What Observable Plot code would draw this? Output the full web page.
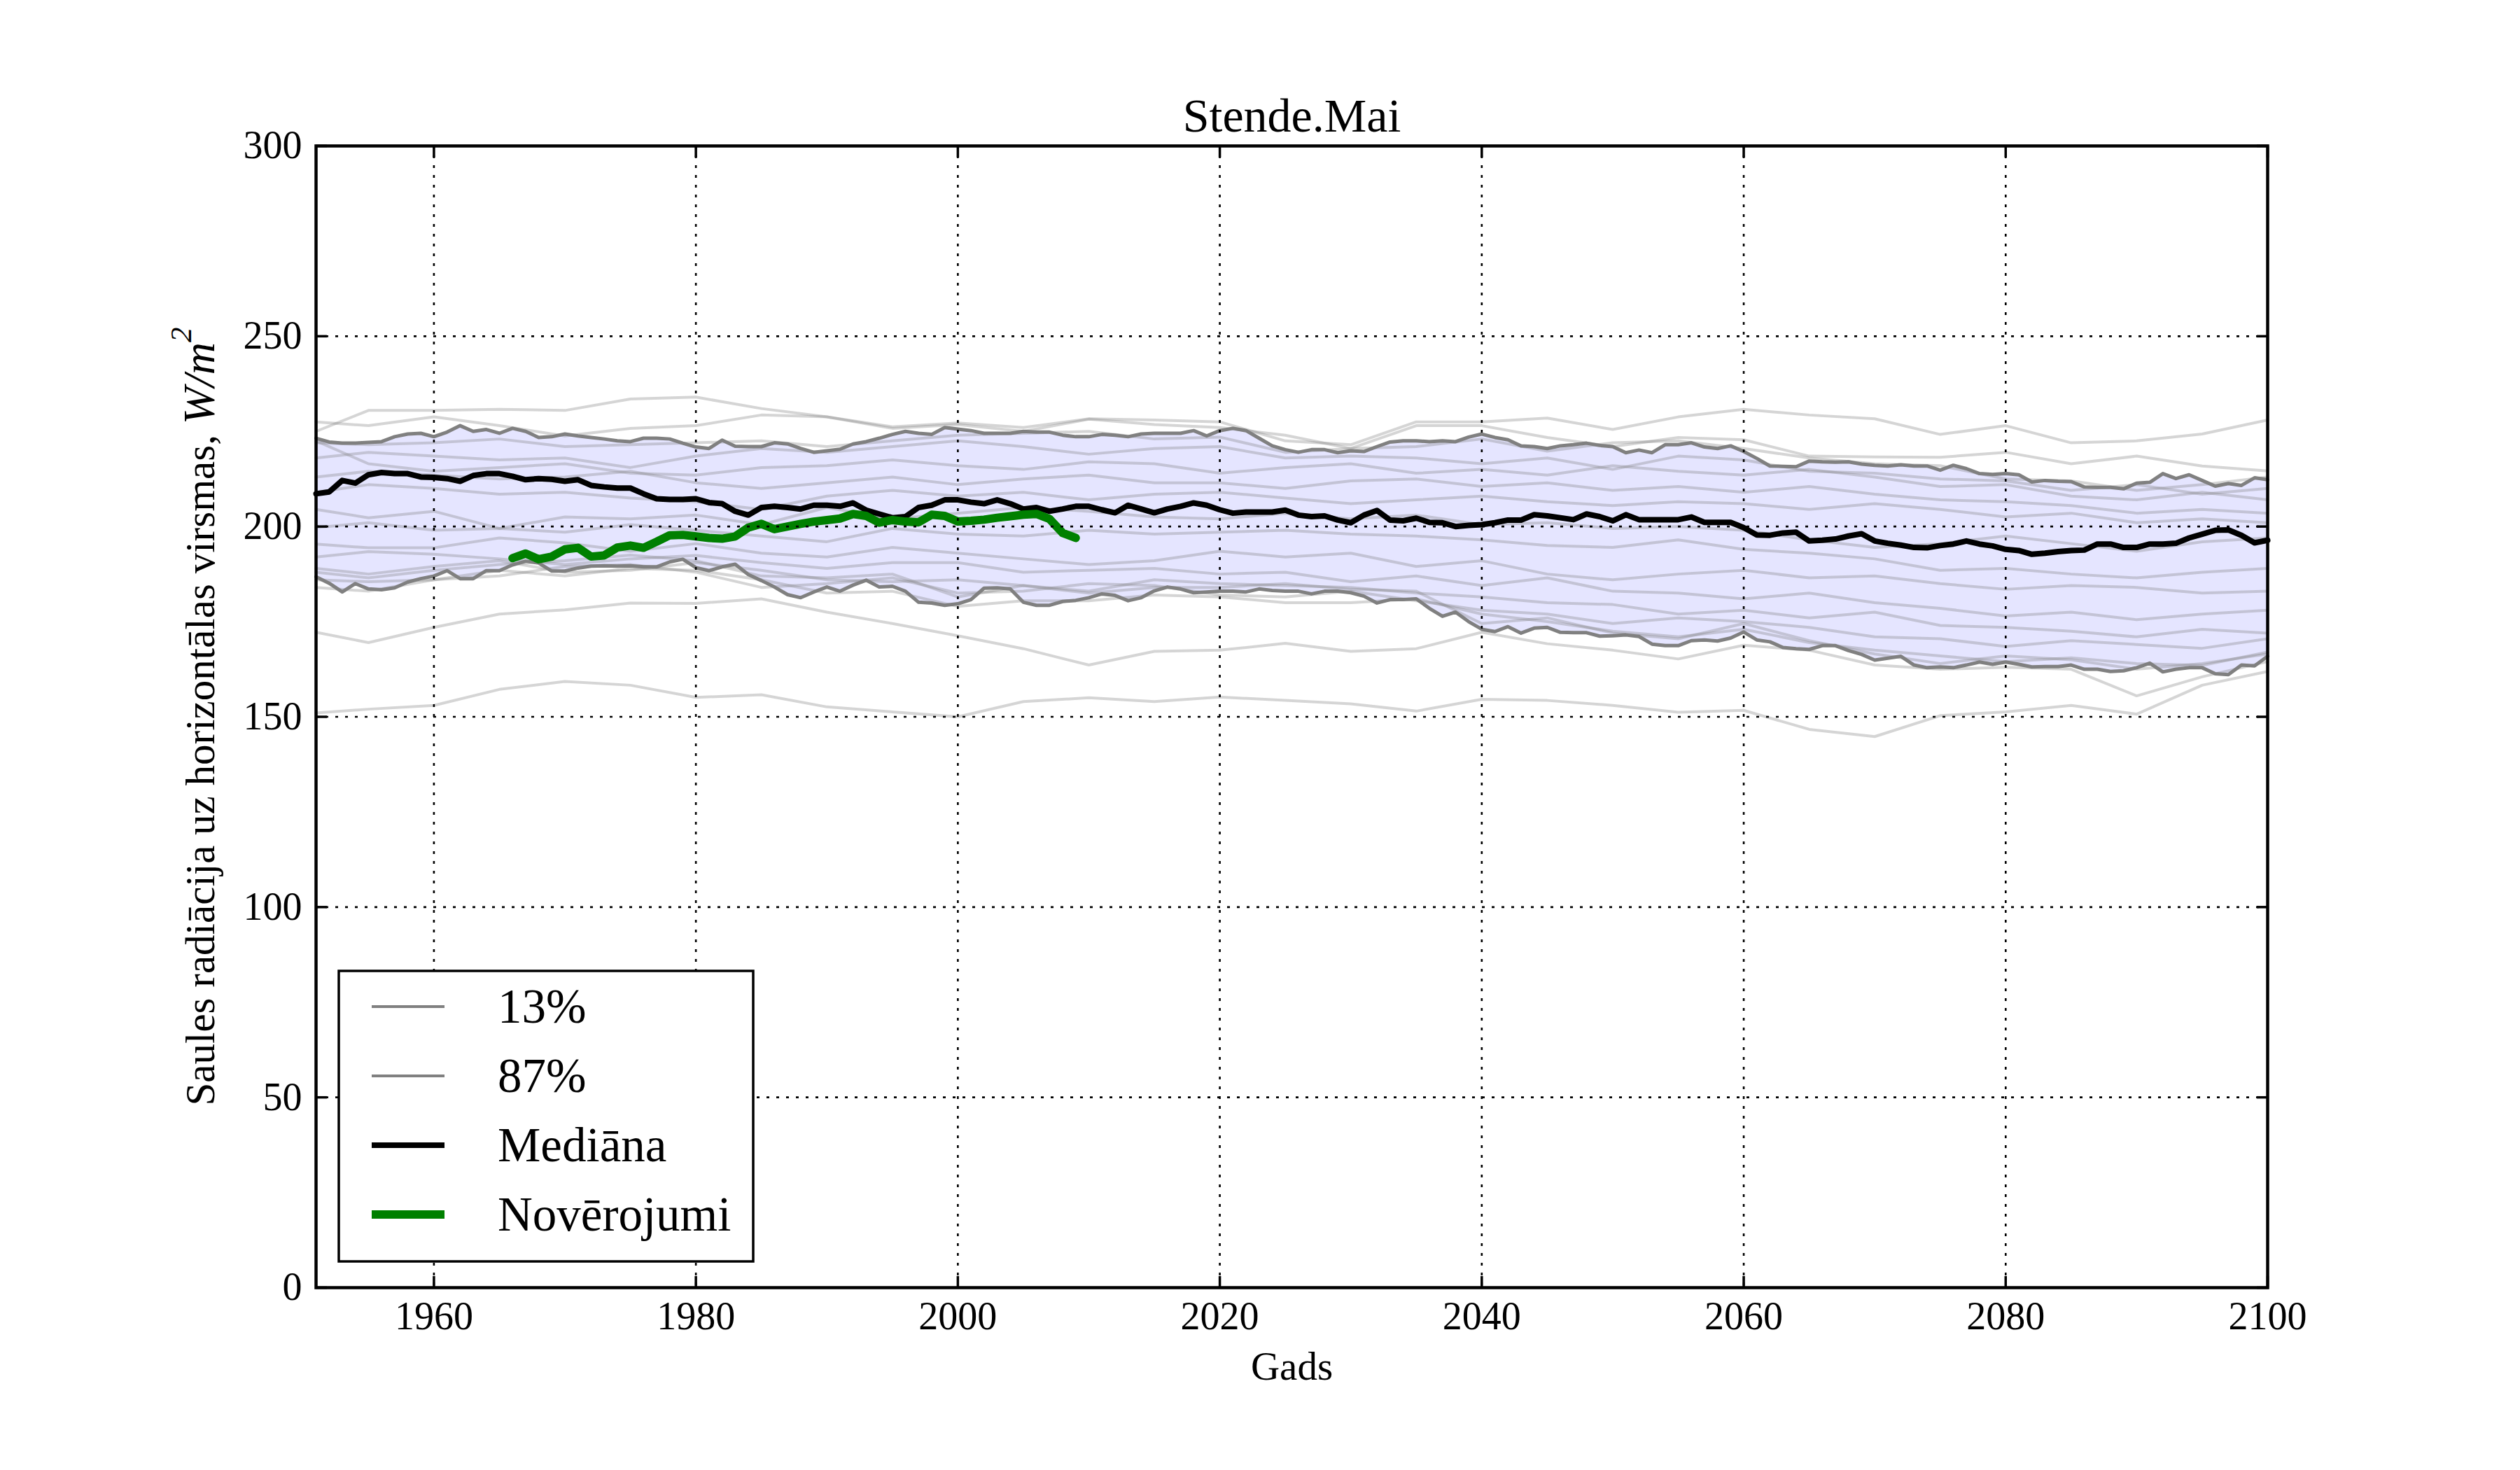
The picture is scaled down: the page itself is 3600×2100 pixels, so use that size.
<!DOCTYPE html>
<html>
<head>
<meta charset="utf-8">
<script src="https://cdn.jsdelivr.net/npm/d3@7"></script>
<script src="https://cdn.jsdelivr.net/npm/@observablehq/plot@0.6"></script>
<style>
  html, body { margin: 0; padding: 0; background: #fff; }
  #chart { width: 3600px; height: 2100px; }
</style>
</head>
<body>
<div id="chart"></div>
<script>
// ---------------- DATA ----------------
const title = "Stende.Mai";
const xLabel = "Gads";
const yLabelText = "Saules radiācija uz horizontālas virsmas, ";
const yLabelMath = "W/m";
const yLabelSup = "2";
const xTicks = [1960, 1980, 2000, 2020, 2040, 2060, 2080, 2100];
const yTicks = [0, 50, 100, 150, 200, 250, 300];
const legendLabels = ["13%", "87%", "Mediāna", "Novērojumi"];

const firstYear = 1951;
const median = [
  208.6, 209.1, 212.1, 211.4, 213.6, 214.2, 213.9, 213.9, 213.0, 212.9,
  212.6, 211.9, 213.4, 213.9, 213.9, 213.2, 212.3, 212.6, 212.4, 211.9,
  212.3, 210.8, 210.4, 210.1, 210.1, 208.6, 207.3, 207.1, 207.1, 207.3,
  206.3, 206.0, 204.0, 203.0, 205.0, 205.3, 205.0, 204.6, 205.6, 205.6,
  205.3, 206.2, 204.3, 203.3, 202.3, 202.6, 205.0, 205.6, 207.0, 207.0,
  206.4, 206.0, 207.0, 206.0, 204.6, 205.0, 204.0, 204.6, 205.3, 205.3,
  204.4, 203.6, 205.6, 204.6, 203.6, 204.6, 205.3, 206.2, 205.6, 204.4,
  203.5, 203.8, 203.8, 203.8, 204.3, 203.0, 202.6, 202.8, 201.7, 201.0,
  203.0, 204.2, 201.7, 201.5, 202.2, 201.1, 201.0, 200.0, 200.3, 200.5,
  201.0, 201.7, 201.7, 203.1, 202.8, 202.3, 201.8, 203.3, 202.6, 201.5,
  203.1, 201.8, 201.8, 201.8, 201.8, 202.5, 201.1, 201.1, 201.1, 199.7,
  197.8, 197.7, 198.3, 198.5, 196.2, 196.4, 196.7, 197.5, 198.1, 196.2,
  195.6, 195.1, 194.5, 194.4, 195.0, 195.4, 196.2, 195.4, 194.9, 194.0,
  193.7, 192.7, 193.0, 193.4, 193.7, 193.8, 195.4, 195.4, 194.5, 194.5,
  195.4, 195.4, 195.6, 197.0, 198.0, 199.0, 199.1, 197.7, 195.7, 196.4
];
const q87 = [
  223.2, 222.2, 221.9, 221.9, 222.1, 222.3, 223.6, 224.3, 224.5, 223.6,
  224.8, 226.5, 225.0, 225.5, 224.5, 225.8, 225.0, 223.4, 223.6, 224.3,
  223.8, 223.4, 223.0, 222.5, 222.3, 223.2, 223.2, 223.0, 221.9, 220.9,
  220.5, 222.7, 221.1, 221.0, 221.0, 222.0, 221.7, 220.5, 219.5, 219.9,
  220.3, 221.7, 222.3, 223.2, 224.2, 225.0, 224.5, 224.2, 226.0, 225.6,
  225.2, 224.5, 224.5, 224.5, 225.0, 224.8, 224.8, 224.0, 223.6, 223.6,
  224.2, 224.0, 223.6, 224.3, 224.5, 224.5, 224.5, 225.2, 223.8, 225.2,
  225.8, 225.2, 223.2, 221.2, 220.2, 219.5, 220.2, 220.2, 219.4, 219.9,
  219.7, 221.0, 222.2, 222.5, 222.5, 222.3, 222.5, 222.3, 223.5, 224.3,
  223.4, 222.8, 221.2, 221.0, 220.5, 221.2, 221.5, 221.9, 221.3, 221.0,
  219.4, 220.1, 219.4, 221.5, 221.5, 222.0, 220.9, 220.5, 221.2, 219.7,
  217.9, 215.9, 215.8, 215.7, 217.2, 217.0, 216.9, 217.0, 216.4, 216.1,
  215.9, 216.2, 215.9, 215.9, 214.8, 216.1, 215.2, 213.9, 213.7, 213.9,
  213.6, 211.7, 212.1, 211.9, 211.8, 210.4, 210.3, 210.3, 209.9, 211.4,
  211.6, 213.9, 212.6, 213.6, 212.1, 210.6, 211.3, 210.8, 212.8, 212.3
];
const q13 = [
  186.8, 185.1, 182.8, 185.0, 183.6, 183.4, 183.9, 185.4, 186.3, 187.0,
  188.4, 186.3, 186.3, 188.4, 188.4, 189.9, 190.9, 190.4, 188.3, 188.3,
  189.1, 189.6, 189.7, 189.6, 189.7, 189.4, 189.4, 190.7, 191.4, 189.2,
  188.4, 189.4, 190.1, 187.4, 185.8, 184.1, 182.1, 181.3, 182.8, 184.1,
  183.0, 184.6, 185.9, 184.1, 184.3, 183.0, 180.1, 179.9, 179.3, 179.7,
  180.8, 183.8, 183.9, 183.6, 180.1, 179.3, 179.3, 180.3, 180.6, 181.3,
  182.3, 181.9, 180.5, 181.3, 183.1, 184.1, 183.6, 182.6, 182.8, 183.0,
  183.0, 182.8, 183.6, 183.2, 183.0, 183.0, 182.3, 183.0, 183.0, 182.6,
  181.7, 179.9, 180.8, 180.8, 181.0, 178.5, 176.4, 177.5, 175.0, 173.0,
  172.4, 173.7, 172.0, 173.3, 173.5, 172.2, 172.1, 172.1, 171.2, 171.3,
  171.5, 171.1, 169.1, 168.7, 168.7, 170.0, 170.2, 169.9, 170.7, 172.3,
  170.2, 169.7, 168.2, 167.9, 167.7, 168.7, 168.7, 167.4, 166.4, 164.9,
  165.4, 165.9, 163.6, 162.9, 163.1, 162.9, 163.6, 164.4, 163.8, 164.4,
  163.8, 163.1, 163.2, 163.2, 163.6, 162.5, 162.5, 161.9, 162.1, 162.9,
  164.1, 161.8, 162.5, 162.9, 162.9, 161.3, 161.1, 163.6, 163.4, 165.9
];
const obsFirstYear = 1966;
const observations = [
  191.7, 192.9, 191.4, 192.1, 194.0, 194.4, 192.1, 192.4, 194.5, 195.0,
  194.4, 196.0, 197.7, 197.8, 197.4, 197.0, 196.8, 197.4, 199.7, 200.7,
  199.3, 200.0, 200.7, 201.3, 201.7, 202.1, 203.3, 202.8, 201.0, 201.7,
  201.3, 201.1, 203.1, 202.8, 201.3, 201.5, 201.8, 202.3, 202.7, 203.1,
  203.3, 202.0, 198.3, 197.0
];

// ensemble members, read at these years
const ensYears = [1951, 1955, 1960, 1965, 1970, 1975, 1980, 1985, 1990, 1995, 2000,
  2005, 2010, 2015, 2020, 2025, 2030, 2035, 2040, 2045, 2050,
  2055, 2060, 2065, 2070, 2075, 2080, 2085, 2090, 2095, 2100];
const m01 = [225.0,230.5,230.5,230.8,230.5,233.5,234.0,231.0,228.8,226.2,227.2,226.0,228.3,228.0,227.5,222.5,221.5,227.5,227.5,228.5,225.5,228.8,230.8,229.3,228.3,224.2,226.5,222.0,222.5,224.3,228.0];
const m02 = [227.5,226.5,228.8,226.5,223.8,225.8,226.5,229.3,228.8,225.8,226.8,225.0,228.2,226.8,226.0,224.0,220.5,226.5,226.5,223.4,221.0,223.4,222.8,218.5,218.3,218.2,219.5,216.5,218.5,215.9,214.6];
const m03 = [222.0,221.5,222.0,223.0,221.0,221.5,222.0,222.5,221.0,222.5,224.0,224.5,225.0,223.0,223.5,219.5,220.5,221.0,223.0,219.8,222.0,222.5,220.5,218.0,216.5,216.0,212.5,212.0,209.5,211.0,213.0];
const m04 = [218.0,219.5,218.5,217.5,218.0,215.5,218.5,220.5,219.5,221.0,222.5,221.0,219.0,220.5,221.0,218.0,218.5,218.0,216.5,218.0,215.0,218.5,217.5,214.5,214.0,212.5,212.0,209.5,211.0,208.5,210.0];
const m05 = [222.5,216.5,214.5,215.5,216.5,214.0,213.5,215.5,216.0,217.5,216.0,215.0,217.0,216.5,214.0,215.5,216.5,214.0,215.0,213.5,216.0,214.5,213.5,215.0,213.0,210.5,211.0,208.0,207.0,209.0,207.0];
const m06 = [213.0,214.5,213.5,212.5,213.0,214.5,211.5,210.0,211.5,213.0,211.0,212.5,213.5,211.5,211.5,210.0,212.0,212.5,210.5,211.5,209.5,210.5,209.0,210.5,208.5,207.0,206.5,205.5,203.5,204.5,203.5];
const m07 = [209.0,211.0,210.0,208.5,209.0,207.5,206.5,204.5,208.0,209.5,208.0,209.0,207.0,208.5,209.0,207.5,206.0,207.0,208.0,206.5,205.5,206.5,206.0,204.5,206.0,204.5,202.5,203.5,201.0,202.0,201.0];
const m08 = [204.5,202.3,204.0,199.5,202.5,202.0,203.0,200.5,205.0,202.0,203.5,205.0,204.0,202.5,202.0,203.5,202.0,203.0,200.5,201.0,199.5,200.0,199.0,196.5,194.5,195.5,197.5,195.5,193.5,196.0,197.0];
const m09 = [199.7,201.0,199.0,199.5,198.5,200.5,199.0,197.5,196.0,199.5,198.0,197.5,199.0,198.0,198.5,199.0,198.0,197.5,196.5,195.0,194.5,196.5,194.0,193.0,191.5,188.5,189.0,187.5,186.5,188.0,189.0];
const m10 = [195.4,194.4,194.4,197.0,195.7,193.5,195.5,193.0,192.0,194.5,193.0,191.5,190.0,191.0,193.5,192.0,193.0,189.5,191.0,187.5,186.0,187.5,188.5,186.5,187.0,185.0,183.5,184.5,184.0,182.5,183.0];
const m11 = [192.0,193.4,192.7,191.5,190.0,191.5,192.4,190.5,189.0,190.5,190.5,188.0,188.5,189.0,187.5,188.0,185.5,187.0,184.5,186.5,183.0,182.5,181.0,182.5,180.0,178.5,176.5,177.5,175.5,177.0,178.0];
const m12 = [189.0,187.5,189.5,191.0,188.0,188.5,190.5,188.5,186.0,185.5,186.0,184.5,183.0,186.0,185.0,184.5,184.0,182.5,181.5,180.0,179.5,177.0,178.0,176.0,177.5,174.0,173.5,172.5,171.0,173.0,172.0];
const m13 = [186.0,185.5,186.0,187.0,189.5,190.0,188.0,184.0,185.0,186.5,182.5,183.0,185.0,184.5,182.0,181.5,183.0,180.5,178.0,177.0,174.5,176.0,175.0,173.5,171.0,170.5,168.5,170.0,169.0,168.0,170.5];
const m14 = [188.0,186.5,188.5,190.0,191.0,192.5,191.0,187.0,186.5,187.5,181.5,184.5,182.5,184.0,184.0,185.0,183.5,183.0,174.5,176.0,172.0,170.5,174.5,170.0,166.5,164.0,166.0,165.0,162.5,164.0,166.5];
const m15 = [184.0,183.0,186.0,188.5,187.0,189.0,188.5,186.0,182.5,183.0,179.0,180.5,180.5,182.0,181.5,180.0,180.0,181.0,177.0,175.0,172.5,171.0,173.0,169.5,167.5,166.0,164.5,165.5,164.0,163.5,167.0];
const m16 = [172.2,169.5,173.5,177.0,178.1,179.9,179.8,181.0,177.5,174.5,171.3,167.9,163.6,167.2,167.5,169.3,167.2,167.9,172.2,169.2,167.5,165.2,168.8,167.5,163.6,162.5,163.0,162.5,155.5,160.5,164.5];
const m17 = [151.0,152.0,153.0,157.2,159.3,158.3,155.1,155.8,152.6,151.3,150.0,154.0,155.0,154.0,155.2,154.3,153.4,151.5,154.6,154.3,153.0,151.2,151.7,146.7,144.8,150.3,151.3,153.0,150.7,158.3,161.9];

// ---------------- STYLE / LAYOUT ----------------
const W = 3600, H = 2100;
const M = { left: 451, right: 361, top: 208, bottom: 261 };
const plotW = W - M.left - M.right, plotH = H - M.top - M.bottom;
const font = "'Liberation Serif', 'Times New Roman', serif";
const gridStyle = { stroke: "black", strokeOpacity: 1, strokeWidth: 2.6, strokeDasharray: "4,10" };
const tickStyle = { tickSize: -16, fill: "none", stroke: "black", strokeWidth: 3.5, label: null };
const legendStyles = [
  { stroke: "#808080", width: 4 },
  { stroke: "#808080", width: 4 },
  { stroke: "black", width: 8 },
  { stroke: "#008000", width: 12 }
];

const years = median.map((_, i) => firstYear + i);
const obsYears = observations.map((_, i) => obsFirstYear + i);
const members = [m01, m02, m03, m04, m05, m06, m07, m08, m09, m10, m11, m12, m13, m14, m15, m16, m17];

const plot = Plot.plot({
  width: W,
  height: H,
  marginLeft: M.left,
  marginRight: M.right,
  marginTop: M.top,
  marginBottom: M.bottom,
  style: { fontFamily: font, fontSize: "56px", background: "white", color: "black" },
  x: { domain: [1951, 2100] },
  y: { domain: [0, 300] },
  marks: [
    Plot.areaY(years, { x: years, y1: q13, y2: q87, fill: "#e5e5ff" }),
    ...members.map(m => Plot.line(ensYears, { x: ensYears, y: m, stroke: "#808080", strokeOpacity: 0.33, strokeWidth: 4 })),
    Plot.line(years, { x: years, y: q13, stroke: "#808080", strokeWidth: 5 }),
    Plot.line(years, { x: years, y: q87, stroke: "#808080", strokeWidth: 5 }),
    Plot.line(years, { x: years, y: median, stroke: "black", strokeWidth: 8 }),
    Plot.line(obsYears, { x: obsYears, y: observations, stroke: "#008000", strokeWidth: 12 }),
    Plot.gridX(xTicks, gridStyle),
    Plot.gridY(yTicks, gridStyle),
    Plot.frame({ stroke: "black", strokeWidth: 4.5 }),
    Plot.axisX(xTicks, { anchor: "bottom", tickFormat: "d", tickSize: 0, tickPadding: 20, fontSize: 56, label: null }),
    Plot.axisY(yTicks, { anchor: "left", tickSize: 0, tickPadding: 20, fontSize: 56, label: null }),
    Plot.axisX(xTicks, { anchor: "bottom", ...tickStyle }),
    Plot.axisX(xTicks, { anchor: "top", ...tickStyle }),
    Plot.axisY(yTicks, { anchor: "left", ...tickStyle }),
    Plot.axisY(yTicks, { anchor: "right", ...tickStyle }),
    Plot.text([title], { text: d => d, frameAnchor: "top", dy: -42, fontSize: 68, lineAnchor: "middle" }),
    Plot.text([xLabel], { text: d => d, frameAnchor: "bottom", dy: 113, fontSize: 57, lineAnchor: "middle" })
  ]
});

document.getElementById("chart").appendChild(plot);

// y-axis label with math part
const svg = d3.select(plot);
const yl = svg.append("text")
  .attr("transform", `translate(${M.left - 166},${M.top + plotH / 2}) rotate(-90)`)
  .attr("text-anchor", "middle")
  .attr("dy", "0.35em")
  .attr("font-family", font)
  .attr("font-size", 59)
  .attr("fill", "black");
yl.append("tspan").text(yLabelText);
yl.append("tspan").attr("font-style", "italic").attr("font-size", 64).text(yLabelMath);
yl.append("tspan").attr("font-style", "italic").attr("font-size", 43).attr("dy", "-0.75em").text(yLabelSup);

// legend
const lgX = M.left + 33, lgY = M.top + 1179, lgW = 592, lgH = 415;
const lg = svg.append("g").attr("text-anchor", "start");
lg.append("rect")
  .attr("x", lgX).attr("y", lgY).attr("width", lgW).attr("height", lgH)
  .attr("fill", "white").attr("stroke", "black").attr("stroke-width", 3.5);
legendLabels.forEach((lab, i) => {
  const cy = lgY + 51 + i * 99;
  lg.append("line")
    .attr("x1", lgX + 47).attr("x2", lgX + 151).attr("y1", cy).attr("y2", cy)
    .attr("stroke", legendStyles[i].stroke).attr("stroke-width", legendStyles[i].width);
  lg.append("text")
    .attr("x", lgX + 227).attr("y", cy).attr("dy", "0.34em")
    .attr("text-anchor", "start")
    .attr("font-family", font).attr("font-size", 69).attr("fill", "black")
    .text(lab);
});
</script>
</body>
</html>
